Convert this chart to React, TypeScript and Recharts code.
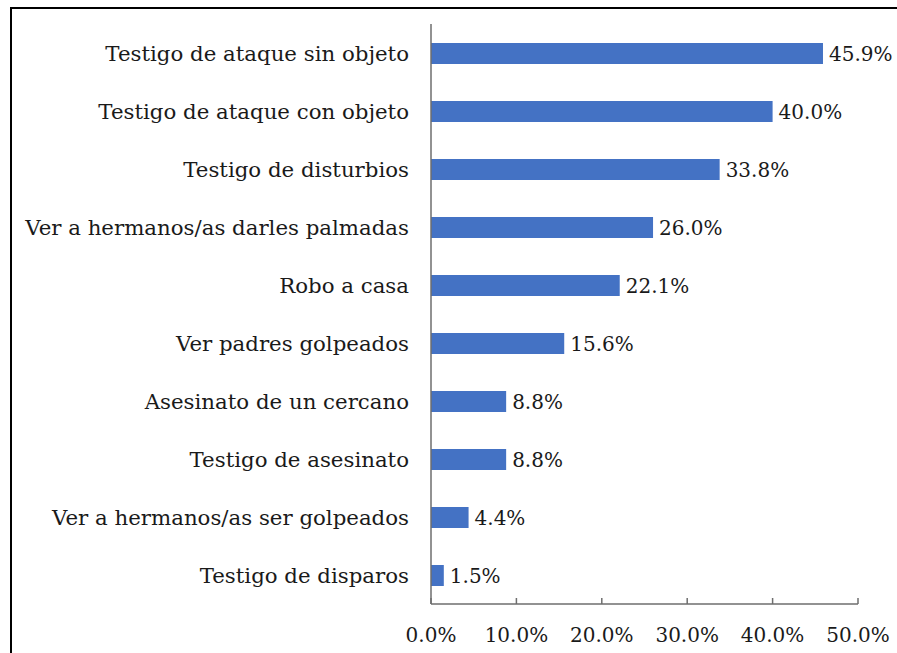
import React from 'react';
import { BarChart, Bar, XAxis, YAxis, LabelList } from 'recharts';

const categories = [
  'Testigo de ataque sin objeto',
  'Testigo de ataque con objeto',
  'Testigo de disturbios',
  'Ver a hermanos/as darles palmadas',
  'Robo a casa',
  'Ver padres golpeados',
  'Asesinato de un cercano',
  'Testigo de asesinato',
  'Ver a hermanos/as ser golpeados',
  'Testigo de disparos',
];
const values = [45.9, 40.0, 33.8, 26.0, 22.1, 15.6, 8.8, 8.8, 4.4, 1.5];
const xTicks = [0, 10, 20, 30, 40, 50];

const data = categories.map((name, i) => ({ name, value: values[i] }));

const FONT = 'DejaVu Serif';
const TEXT = '#1a1a1a';
const AXIS = '#6e6e6e';
const TICK_MARGIN = 24;

const pct = (v: number) => `${Number(v).toFixed(1)}%`;

const XTick = (props: any) => {
  const { x, y, payload } = props;
  const axisY = y - TICK_MARGIN;
  return (
    <g>
      <line x1={x} x2={x} y1={axisY} y2={axisY - 6} stroke={AXIS} strokeWidth={1.5} />
      <text x={x} y={y} dy="0.71em" textAnchor="middle" fill={TEXT} fontSize={20} fontFamily={FONT}>
        {pct(payload.value)}
      </text>
    </g>
  );
};

export default function App() {
  return (
    <div style={{ position: 'fixed', left: 0, top: 0, width: 897, height: 653, overflow: 'hidden', background: '#fff' }}>
      <div
        style={{
          position: 'absolute',
          left: 10,
          top: 7,
          width: 900,
          height: 700,
          borderTop: '2px solid #000',
          borderLeft: '2px solid #000',
        }}
      />
      <div style={{ position: 'absolute', left: 0, top: 0 }}>
        <BarChart
          width={897}
          height={653}
          data={data}
          layout="vertical"
          margin={{ top: 24, right: 39, bottom: 0, left: 0 }}
          barCategoryGap={0}
        >
          <XAxis
            type="number"
            domain={[0, 50]}
            ticks={xTicks}
            interval={0}
            tickLine={false}
            tickSize={0}
            tickMargin={TICK_MARGIN}
            axisLine={{ stroke: AXIS, strokeWidth: 1.5 }}
            tick={<XTick />}
            height={49}
          />
          <YAxis
            type="category"
            dataKey="name"
            width={431}
            tickLine={false}
            tickSize={0}
            tickMargin={22}
            interval={0}
            axisLine={{ stroke: AXIS, strokeWidth: 1.5 }}
            tick={{ fill: TEXT, fontSize: 21.3, fontFamily: FONT }}
          />
          <Bar dataKey="value" fill="#4472C4" barSize={21} isAnimationActive={false}>
            <LabelList
              dataKey="value"
              position="right"
              offset={6}
              formatter={(v: any) => pct(v)}
              fill={TEXT}
              fontSize={20}
              fontFamily={FONT}
            />
          </Bar>
        </BarChart>
      </div>
    </div>
  );
}
